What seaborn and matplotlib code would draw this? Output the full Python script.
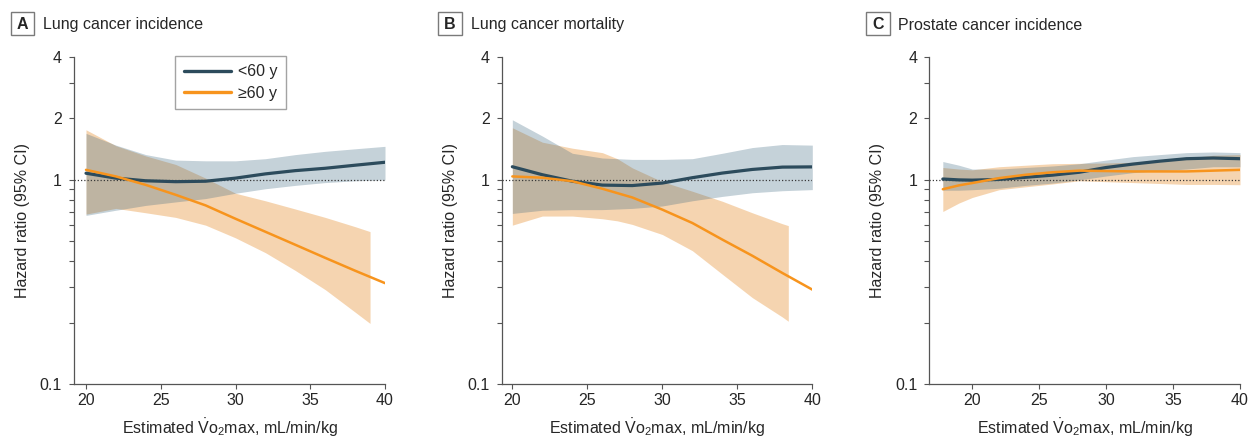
import matplotlib
matplotlib.use("Agg")
import matplotlib.pyplot as plt
import seaborn as sns
import pandas as pd
from matplotlib import font_manager
from matplotlib.patches import Rectangle
from matplotlib.ticker import FixedLocator, FixedFormatter, NullFormatter

# ---------------- data ----------------
panel_letters = ["A", "B", "C"]
panel_titles = ["Lung cancer incidence", "Lung cancer mortality", "Prostate cancer incidence"]
group_labels = ["<60 y", "\u226560 y"]
x_ticks = [20, 25, 30, 35, 40]
y_major = [0.1, 1, 2, 4]
y_major_labels = ["0.1", "1", "2", "4"]
y_minor = [0.2, 0.3, 0.4, 0.5, 0.6, 0.7, 0.8, 0.9, 3]

# Panel A: lung cancer incidence
a_x = [20, 22, 24, 26, 28, 30, 32, 34, 36, 38, 40]
a_young_hr = [1.078, 1.02, 0.99, 0.98, 0.985, 1.02, 1.07, 1.11, 1.14, 1.18, 1.22]
a_young_lo = [0.67, 0.71, 0.75, 0.78, 0.81, 0.86, 0.905, 0.94, 0.97, 0.99, 1.00]
a_young_hi = [1.69, 1.48, 1.33, 1.25, 1.24, 1.24, 1.27, 1.33, 1.38, 1.42, 1.46]
a_old_hr = [1.12, 1.04, 0.945, 0.845, 0.75, 0.645, 0.557, 0.481, 0.415, 0.359, 0.312]
a_old_band_x = [20, 22, 24, 26, 28, 30, 32, 34, 36, 38, 39]
a_old_lo = [0.68, 0.725, 0.69, 0.655, 0.60, 0.52, 0.44, 0.36, 0.29, 0.225, 0.198]
a_old_hi = [1.76, 1.47, 1.31, 1.19, 1.02, 0.86, 0.79, 0.72, 0.655, 0.59, 0.558]

# Panel B: lung cancer mortality
b_x = [20, 22, 24, 26, 28, 30, 32, 34, 36, 38, 40]
b_young_hr = [1.16, 1.06, 0.985, 0.943, 0.938, 0.965, 1.025, 1.08, 1.125, 1.155, 1.158]
b_young_lo = [0.685, 0.71, 0.715, 0.715, 0.725, 0.745, 0.79, 0.83, 0.865, 0.885, 0.896]
b_young_hi = [1.97, 1.64, 1.35, 1.28, 1.26, 1.26, 1.27, 1.35, 1.44, 1.49, 1.48]
b_old_hr = [1.04, 1.025, 0.985, 0.905, 0.82, 0.715, 0.615, 0.51, 0.425, 0.35, 0.29]
b_old_band_x = [20, 22, 24, 26, 27, 28, 30, 32, 34, 36, 38, 38.4]
b_old_lo = [0.60, 0.665, 0.665, 0.645, 0.63, 0.605, 0.54, 0.45, 0.345, 0.265, 0.213, 0.203]
b_old_hi = [1.80, 1.53, 1.43, 1.36, 1.27, 1.145, 0.98, 0.88, 0.786, 0.69, 0.61, 0.597]

# Panel C: prostate cancer incidence
c_x = [17.8, 19, 20, 22, 24, 26, 28, 30, 32, 34, 36, 38, 40]
c_young_hr = [1.01, 1.0, 0.997, 1.005, 1.03, 1.055, 1.09, 1.15, 1.195, 1.235, 1.27, 1.28, 1.27]
c_young_lo = [0.89, 0.89, 0.895, 0.91, 0.94, 0.965, 1.0, 1.045, 1.085, 1.11, 1.13, 1.16, 1.16]
c_young_hi = [1.23, 1.18, 1.13, 1.13, 1.15, 1.17, 1.20, 1.25, 1.30, 1.33, 1.36, 1.37, 1.36]
c_old_hr = [0.90, 0.94, 0.965, 1.02, 1.06, 1.09, 1.11, 1.105, 1.10, 1.10, 1.10, 1.11, 1.12]
c_old_band_x = [17.8, 19, 20, 22, 24, 26, 28, 30, 32, 34, 36, 38, 40]
c_old_lo = [0.70, 0.77, 0.82, 0.895, 0.925, 0.955, 0.99, 0.98, 0.97, 0.96, 0.95, 0.95, 0.947]
c_old_hi = [1.15, 1.13, 1.12, 1.16, 1.18, 1.20, 1.205, 1.21, 1.22, 1.25, 1.28, 1.32, 1.33]

# ---------------- style ----------------
SLATE = "#2c4b5c"
SLATE_BAND = "#3f6a82"
ORANGE = "#f7941d"
ORANGE_BAND = "#e8953a"
TEXT = "#262626"
AXC = "#555555"

sns.set_theme(style="white")
names = {f.name for f in font_manager.fontManager.ttflist}
FONT = "Liberation Sans" if "Liberation Sans" in names else "DejaVu Sans"
plt.rcParams["font.family"] = [FONT, "DejaVu Sans"]
plt.rcParams["mathtext.fontset"] = "custom"
plt.rcParams["mathtext.rm"] = FONT
plt.rcParams["mathtext.it"] = FONT + ":italic"
plt.rcParams["mathtext.bf"] = FONT + ":bold"

FS = 11.5
W, H = 1256, 438
fig = plt.figure(figsize=(W / 100, H / 100), dpi=100)

axes_px = [(74.0, 311.0, 19.197), (501.7, 310.6, 19.29), (929.3, 310.7, 16.79)]
top_px, bot_px = 57.0, 384.0

panels = [
    (a_x, a_young_hr, a_young_lo, a_young_hi, a_x, a_old_hr, a_old_band_x, a_old_lo, a_old_hi),
    (b_x, b_young_hr, b_young_lo, b_young_hi, b_x, b_old_hr, b_old_band_x, b_old_lo, b_old_hi),
    (c_x, c_young_hr, c_young_lo, c_young_hi, c_x, c_old_hr, c_old_band_x, c_old_lo, c_old_hi),
]

for i, (left, width, xmin) in enumerate(axes_px):
    ax = fig.add_axes([left / W, 1 - bot_px / H, width / W, (bot_px - top_px) / H])
    yx, yhr, ylo, yhi, ox, ohr, obx, olo, ohi = panels[i]

    ax.fill_between(obx, olo, ohi, color=ORANGE_BAND, alpha=0.40, lw=0, zorder=1)
    ax.fill_between(yx, ylo, yhi, color=SLATE_BAND, alpha=0.30, lw=0, zorder=2)
    ax.axhline(1, color="#3a3a3a", ls=(0, (1, 1.6)), lw=0.9, zorder=3)

    dy = pd.DataFrame({"x": yx, "hr": yhr})
    do = pd.DataFrame({"x": ox, "hr": ohr})
    sns.lineplot(data=dy, x="x", y="hr", ax=ax, color=SLATE, lw=2.3,
                 label=group_labels[0] if i == 0 else None, zorder=4)
    sns.lineplot(data=do, x="x", y="hr", ax=ax, color=ORANGE, lw=1.8,
                 label=group_labels[1] if i == 0 else None, zorder=5)

    ax.set_yscale("log")
    ax.set_ylim(0.1, 4)
    ax.set_xlim(xmin, 40)
    ax.yaxis.set_major_locator(FixedLocator(y_major))
    ax.yaxis.set_major_formatter(FixedFormatter(y_major_labels))
    ax.yaxis.set_minor_locator(FixedLocator(y_minor))
    ax.yaxis.set_minor_formatter(NullFormatter())
    ax.set_xticks(x_ticks)
    ax.set_xticklabels([str(t) for t in x_ticks])

    for s in ["top", "right"]:
        ax.spines[s].set_visible(False)
    for s in ["left", "bottom"]:
        ax.spines[s].set_color(AXC)
        ax.spines[s].set_linewidth(0.9)
    ax.tick_params(axis="both", which="both", direction="out", length=3.6, width=0.8,
                   color=AXC, labelsize=FS, labelcolor=TEXT, left=True, bottom=True)
    ax.tick_params(axis="y", which="both", pad=5.0)
    ax.tick_params(axis="x", which="both", pad=3)
    ax.grid(False)

    ax.set_xlabel(r"Estimated $\dot{\mathrm{V}}\mathrm{o}_{2}$max, mL/min/kg",
                  fontsize=FS, color=TEXT, labelpad=6.5)
    ax.set_ylabel("Hazard ratio (95% CI)", fontsize=FS, color=TEXT, labelpad=7)

    if i == 0:
        leg = ax.legend(loc="upper left", bbox_to_anchor=(0.325, 1.004), frameon=True,
                        fancybox=False, fontsize=FS, handlelength=2.95, handletextpad=0.45,
                        labelspacing=0.38, borderpad=0.55, borderaxespad=0)
        leg.get_frame().set_edgecolor("#8c8c8c")
        leg.get_frame().set_linewidth(1.0)
        for h in leg.get_lines():
            h.set_linewidth(2.4)
        for t in leg.get_texts():
            t.set_color(TEXT)
    else:
        if ax.get_legend() is not None:
            ax.get_legend().remove()

    # panel letter box + title
    bx = left - 63.4
    fig.add_artist(Rectangle((bx / W, 1 - 35.0 / H), 23.6 / W, 23.3 / H,
                             transform=fig.transFigure, fill=False,
                             ec="#7a7a7a", lw=1.0))
    fig.text((bx + 11.8) / W, 1 - 29.3 / H, panel_letters[i], ha="center",
             va="baseline", fontsize=FS, fontweight="bold", color=TEXT)
    fig.text((bx + 32.3) / W, 1 - 29.5 / H, panel_titles[i], ha="left",
             va="baseline", fontsize=FS, color=TEXT)

fig.savefig("out.png", dpi=100)
